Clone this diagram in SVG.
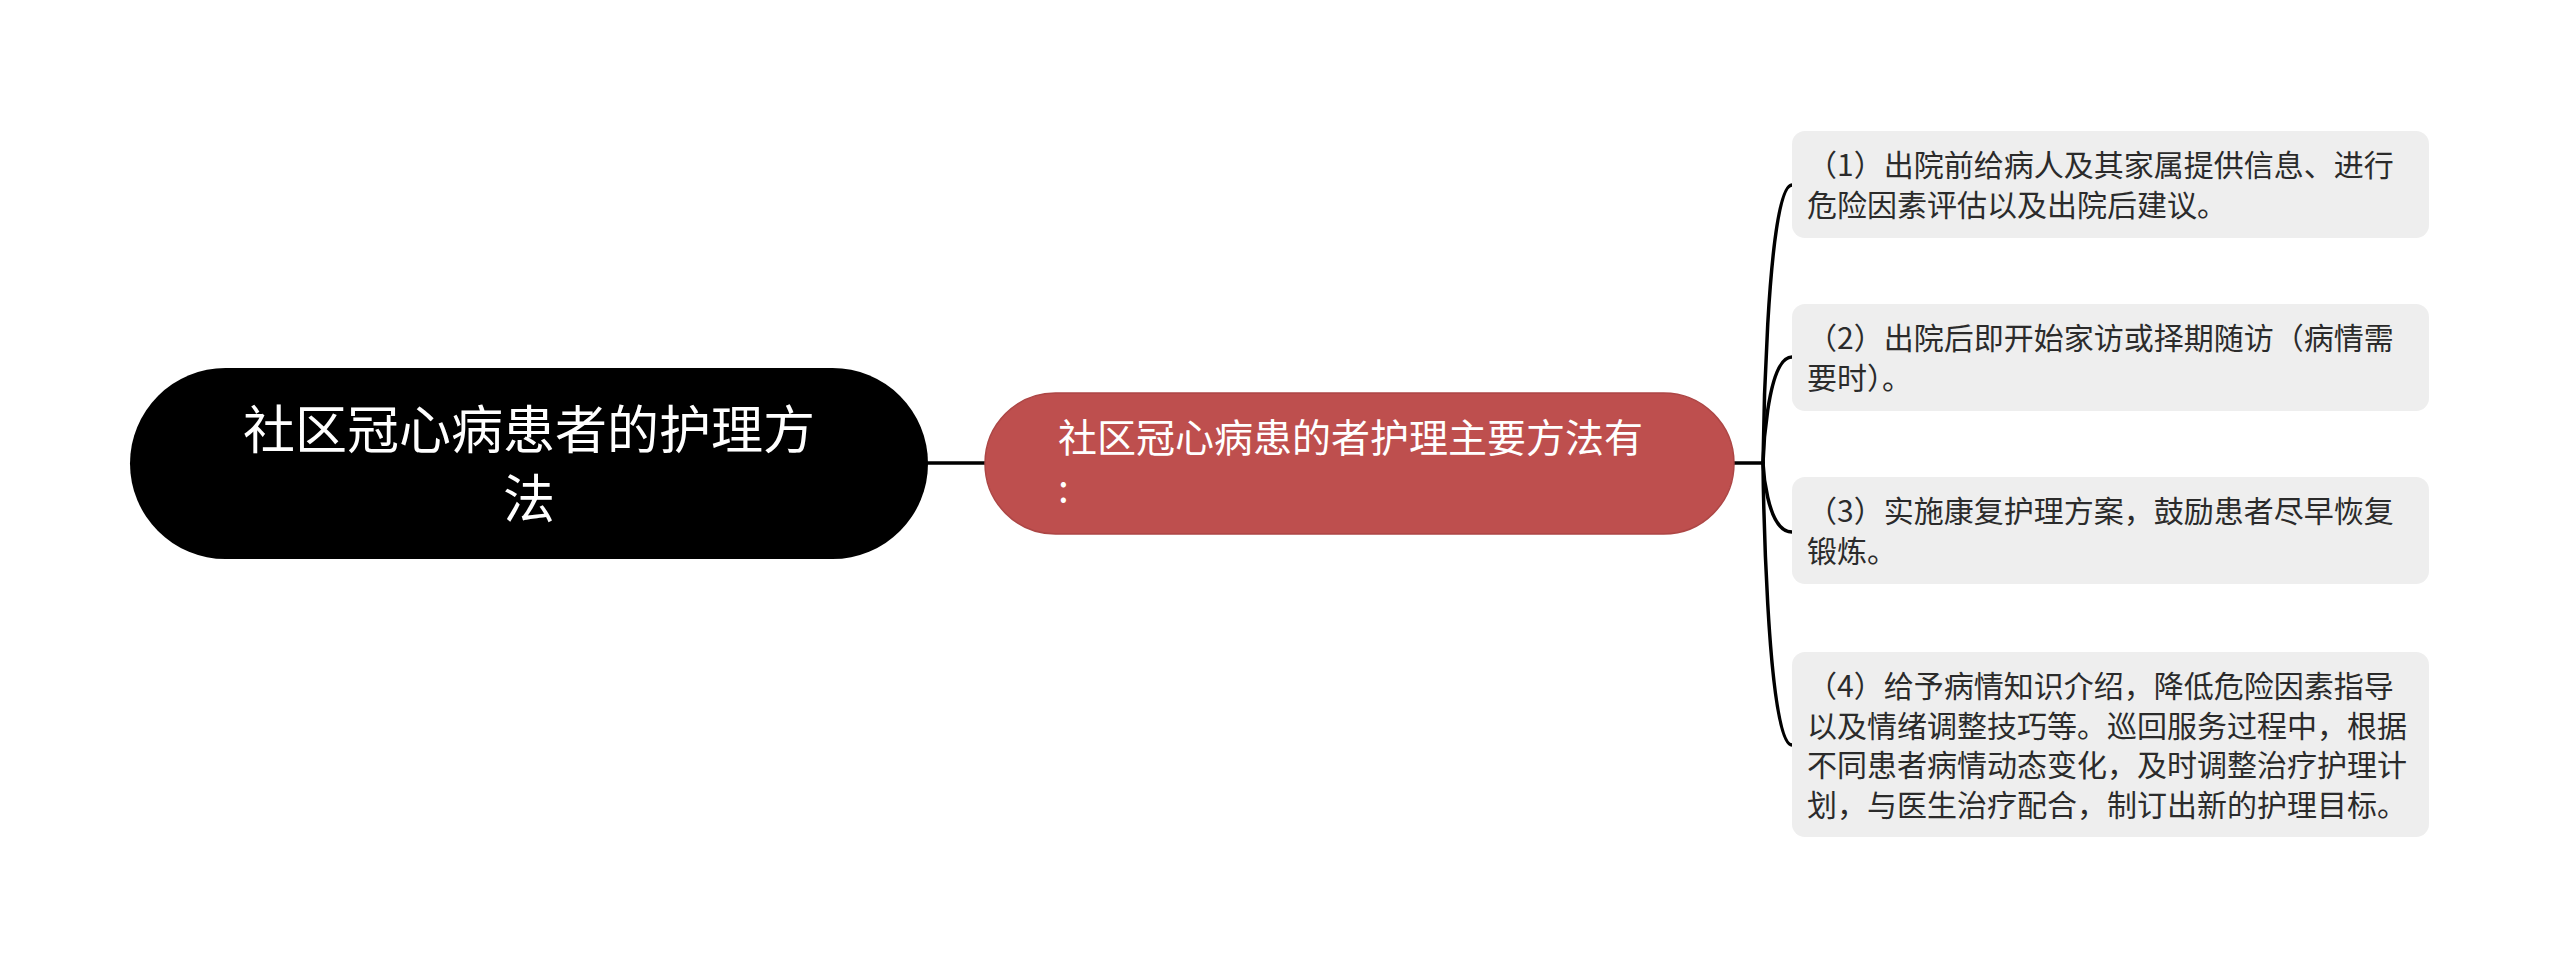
<svg xmlns="http://www.w3.org/2000/svg" width="2560" height="967" viewBox="0 0 2560 967">
<style>
text{font-family:"Noto Sans CJK SC","Noto Sans",sans-serif}
.root{fill:#000}
.rootT{fill:#fff;font-size:52px}
.mid{fill:#BE4F4E;stroke:#AD4645;stroke-width:1.5}
.midT{fill:#fff;font-size:39px}
.leaf{fill:#EEEEEE}
.leafT{fill:#2b2b2b;font-size:30px}
.conn{fill:none;stroke:#000;stroke-width:3.5;stroke-linecap:round}
</style>
<rect width="2560" height="967" fill="#fff"/>
<g id="connectors">
<path class="conn" d="M928 463 L985 463"/>
<path class="conn" d="M1734 463 L1763 463"/>
<path class="conn" d="M1763 463 C1763 463 1766 185 1792 185"/>
<path class="conn" d="M1763 463 C1763 463 1766 357 1792 357"/>
<path class="conn" d="M1763 463 C1763 463 1766 532 1792 532"/>
<path class="conn" d="M1763 463 C1763 463 1766 745 1792 745"/>
</g>
<g id="root">
<rect class="root" x="130" y="368" width="798" height="191" rx="95.5"/>
<text class="rootT" text-anchor="middle"><tspan x="529" y="449">社区冠心病患者的护理方</tspan><tspan x="529" y="518">法</tspan></text>
</g>
<g id="mid">
<rect class="mid" x="985" y="393" width="749" height="141" rx="70.5"/>
<text class="midT"><tspan x="1058" y="452">社区冠心病患的者护理主要方法有</tspan><tspan x="1058" y="503">:</tspan></text>
</g>
<g id="n1">
<rect class="leaf" x="1792" y="131" width="637" height="107" rx="13"/>
<text class="leafT"><tspan x="1807" y="176">（1）出院前给病人及其家属提供信息、进行</tspan><tspan x="1807" y="215.5">危险因素评估以及出院后建议。</tspan></text>
</g>
<g id="n2">
<rect class="leaf" x="1792" y="304" width="637" height="107" rx="13"/>
<text class="leafT"><tspan x="1807" y="349">（2）出院后即开始家访或择期随访（病情需</tspan><tspan x="1807" y="388.5">要时）。</tspan></text>
</g>
<g id="n3">
<rect class="leaf" x="1792" y="477" width="637" height="107" rx="13"/>
<text class="leafT"><tspan x="1807" y="522">（3）实施康复护理方案，鼓励患者尽早恢复</tspan><tspan x="1807" y="561.5">锻炼。</tspan></text>
</g>
<g id="n4">
<rect class="leaf" x="1792" y="652" width="637" height="185" rx="13"/>
<text class="leafT"><tspan x="1807" y="697">（4）给予病情知识介绍，降低危险因素指导</tspan><tspan x="1807" y="736.5">以及情绪调整技巧等。巡回服务过程中，根据</tspan><tspan x="1807" y="776">不同患者病情动态变化，及时调整治疗护理计</tspan><tspan x="1807" y="815.5">划，与医生治疗配合，制订出新的护理目标。</tspan></text>
</g>
</svg>
